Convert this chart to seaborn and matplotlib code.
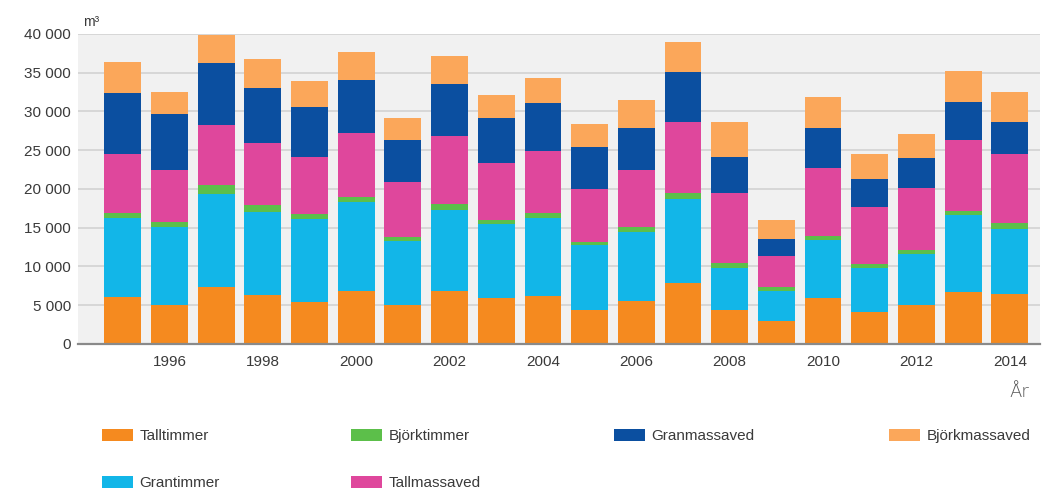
import numpy as np
import pandas as pd
import matplotlib
matplotlib.use("Agg")
import matplotlib.pyplot as plt
from matplotlib.patches import Patch
from matplotlib.ticker import FuncFormatter, MultipleLocator
import seaborn as sns

years = list(range(1995, 2015))
talltimmer    = [6100, 5000, 7300, 6300, 5350, 6850, 5000, 6850, 5900, 6150, 4400, 5550, 7850, 4400, 3000, 5900, 4150, 5000, 6650, 6450]
grantimmer    = [10200, 10100, 12100, 10700, 10750, 11400, 8300, 10450, 9550, 10150, 8400, 8950, 10900, 5450, 3850, 7500, 5700, 6650, 9950, 8350]
bjorktimmer   = [650, 650, 1100, 900, 650, 750, 450, 800, 500, 650, 400, 650, 750, 550, 450, 550, 450, 500, 600, 750]
tallmassaved  = [7500, 6700, 7800, 8000, 7350, 8150, 7150, 8700, 7450, 7950, 6750, 7300, 9100, 9100, 4000, 8800, 7400, 8000, 9050, 8900]
granmassaved  = [7950, 7150, 7950, 7100, 6500, 6950, 5400, 6750, 5700, 6200, 5450, 5450, 6450, 4650, 2300, 5150, 3550, 3800, 4950, 4150]
bjorkmassaved = [4000, 2900, 3650, 3700, 3300, 3600, 2900, 3650, 3000, 3150, 3000, 3500, 3900, 4450, 2400, 4000, 3200, 3150, 4050, 3900]

series_names = ["Talltimmer", "Grantimmer", "Björktimmer", "Tallmassaved", "Granmassaved", "Björkmassaved"]
series_vals = [talltimmer, grantimmer, bjorktimmer, tallmassaved, granmassaved, bjorkmassaved]
colors = ["#F58A1F", "#12B6E8", "#5CBF4A", "#DF479C", "#0B4FA0", "#FBA75A"]

sns.set_theme(style="white")
plt.rcParams["font.family"] = ["Liberation Sans", "DejaVu Sans"]

W, H = 1043, 490
fig = plt.figure(figsize=(W / 100, H / 100), dpi=100)
ax = fig.add_axes([0.0748, 0.298, 0.922, 0.633])
ax.set_facecolor("#F1F1F1")

year_labels = [str(y) for y in years]
bottom = np.zeros(len(years))
for name, vals, col in zip(series_names, series_vals, colors):
    df = pd.DataFrame({"year": year_labels, "value": vals})
    sns.barplot(data=df, x="year", y="value", order=year_labels, color=col,
                bottom=bottom.copy(), width=0.79, errorbar=None, ax=ax,
                saturation=1, linewidth=0)
    bottom += np.array(vals)

ax.set_ylim(0, 40000)
ax.set_xlim(-0.96, 19.64)
ax.yaxis.set_major_locator(MultipleLocator(5000))
ax.yaxis.set_major_formatter(FuncFormatter(lambda v, p: f"{int(v):,}".replace(",", " ")))
ax.grid(axis="y", color="#D2D2D2", linewidth=1.2)
ax.set_axisbelow(True)
ax.set_xticks(range(1, 20, 2))
ax.set_xticklabels([year_labels[i] for i in range(1, 20, 2)])
for s in ["top", "right", "left"]:
    ax.spines[s].set_visible(False)
ax.spines["bottom"].set_color("#8A8A8A")
ax.spines["bottom"].set_linewidth(1.6)
ax.tick_params(axis="both", length=0, labelsize=11, labelcolor="#3A3A3A")
ax.tick_params(axis="x", pad=8)
ax.tick_params(axis="y", pad=5)
ax.set_xlabel("")
ax.set_ylabel("")

fig.text(83 / W, 1 - 29 / H, "m³", fontsize=10, color="#3A3A3A", ha="left", va="bottom")
fig.text(1019 / W, 1 - 392 / H, "År", fontsize=13, color="#555555", ha="center", va="center",
         family=["DejaVu Sans"], fontweight="light")

# legend entries placed individually (4 columns, 2 rows, column-major)
legend_pos = [(102, 436), (102, 483), (351, 436), (351, 483), (614, 436), (889, 436)]
for name, col, (px, py) in zip(series_names, colors, legend_pos):
    fig.legend(handles=[Patch(facecolor=col, edgecolor="none", label=name)],
               loc="center left", bbox_to_anchor=(px / W, 1 - py / H),
               frameon=False, fontsize=11, handlelength=2.0, handleheight=0.85,
               handletextpad=0.45, borderpad=0, borderaxespad=0, labelcolor="#3A3A3A")

fig.savefig("out.png", dpi=100, facecolor="white")
